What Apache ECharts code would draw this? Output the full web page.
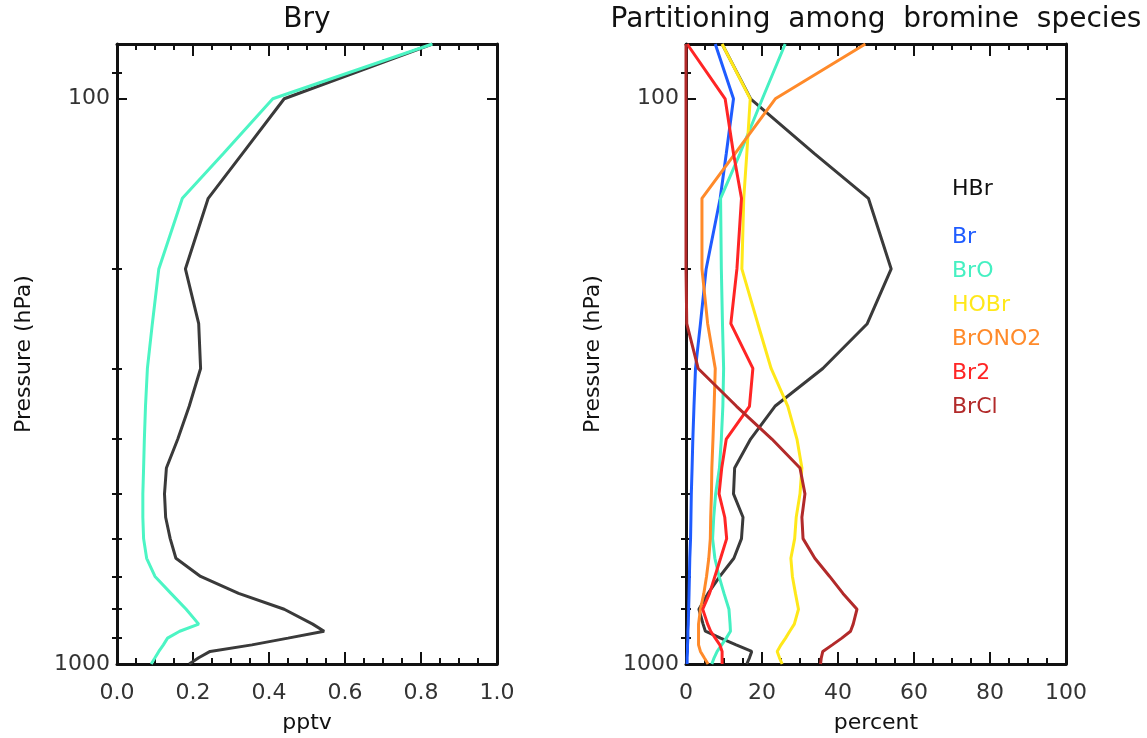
<!DOCTYPE html>
<html>
<head>
<meta charset="utf-8">
<script src="https://cdn.jsdelivr.net/npm/echarts@6/dist/echarts.min.js"></script>
<style>
  html, body { margin: 0; padding: 0; background: #ffffff; }
  #chart { width: 1147px; height: 738px; }
</style>
</head>
<body>
<div id="chart"></div>
<script>
// Pressure levels (hPa) shared by every profile
const pressureLevels = [80, 100, 125, 150, 200, 250, 300, 350, 400, 450, 500, 550,
                        600, 650, 700, 750, 800, 850, 875, 900, 925, 950, 975, 1000];
const pressureLabelTicks = [100, 1000];
const pressureMinorTicks = [90, 200, 300, 400, 500, 600, 700, 800, 900];

// Left panel: total inorganic bromine (pptv)
const bryProfileA = [0.83, 0.44, 0.33, 0.24, 0.18, 0.215, 0.22, 0.19, 0.16, 0.13, 0.125, 0.128,
                     0.14, 0.155, 0.22, 0.32, 0.44, 0.515, 0.545, 0.45, 0.355, 0.245, 0.215, 0.19];
const bryProfileB = [0.83, 0.41, 0.28, 0.172, 0.11, 0.093, 0.08, 0.075, 0.072, 0.07, 0.068, 0.068,
                     0.07, 0.078, 0.10, 0.142, 0.182, 0.215, 0.165, 0.133, 0.122, 0.11, 0.10, 0.09];

// Right panel: share of each species in Bry (percent)
const hbrPct    = [9.5, 17, 33.8, 48, 54, 47.7, 36, 23.4, 17, 12.8, 12.5, 15,
                   14.6, 12.6, 8.9, 5.8, 3.4, 4.5, 5.1, 9.1, 13.2, 17.3, 16.7, 16];
const brPct     = [7.7, 12.5, 10.6, 9, 5.3, 3.8, 2.5, 2.1, 1.8, 1.6, 1.4, 1.3,
                   1.2, 1.0, 0.9, 0.8, 0.7, 0.6, 0.5, 0.5, 0.4, 0.4, 0.3, 0.3];
const broPct    = [26.1, 20.1, 14.2, 9.1, 9.3, 9.6, 9.9, 9.7, 9.3, 8.8, 7.8, 7.3,
                   7.0, 7.6, 8.7, 10.0, 11.3, 11.6, 11.7, 10.6, 9.4, 8.2, 7.4, 6.8];
const hobrPct   = [9.5, 16.9, 16.0, 15.2, 14.7, 18.9, 22.4, 26.8, 29.2, 30.5, 30.0, 29.0,
                   28.6, 27.6, 28.0, 28.8, 29.6, 28.5, 27.3, 26.2, 25.0, 24.0, 24.6, 25.3];
const brono2Pct = [47.2, 23.5, 12.9, 4.2, 4.2, 5.7, 7.7, 7.4, 7.1, 6.8, 6.7, 6.5,
                   6.4, 6.0, 5.4, 4.7, 3.8, 3.3, 3.3, 3.3, 3.3, 3.8, 4.8, 5.8];
const br2Pct    = [0.3, 10.3, 12.5, 14.6, 13.4, 11.8, 17.6, 16.7, 10.6, 9.4, 8.7, 10.2,
                   10.7, 9.1, 7.6, 6.2, 4.4, 5.7, 6.5, 7.7, 8.9, 9.5, 9.5, 9.5];
const brclPct   = [0, 0, 0, 0, 0, 0.2, 3.2, 13.3, 22.6, 30.0, 31.3, 30.5,
                   30.8, 33.9, 37.8, 41.3, 45.0, 44.0, 43.3, 41.0, 38.5, 36.0, 35.6, 35.4];

const speciesNames  = ['HBr', 'Br', 'BrO', 'HOBr', 'BrONO2', 'Br2', 'BrCl'];
const speciesValues = [hbrPct, brPct, broPct, hobrPct, brono2Pct, br2Pct, brclPct];
const speciesColors = ['#3a3a3a', '#1f5cff', '#45f0c2', '#ffe81a', '#ff8a2a', '#ff2525', '#b22a2a'];
const speciesTextColors = ['#111111', '#1f5cff', '#45f0c2', '#ffe81a', '#ff8a2a', '#ff2525', '#b22a2a'];

const bryColors = ['#3a3a3a', '#4cf5c4'];

const panelTitles = ['Bry', 'Partitioning  among  bromine  species'];
const xAxisNames = ['pptv', 'percent'];
const yAxisName = 'Pressure (hPa)';

// ---- layout / style ----
const FONT = 'DejaVu Sans';
const INK = '#111111';
const grids = [
  { left: 117, top: 44, width: 380, height: 620 },
  { left: 686, top: 44, width: 380, height: 620 }
];
const xScales = [
  { max: 1, interval: 0.2, fmt: v => v.toFixed(1) },
  { max: 100, interval: 20, fmt: v => String(Math.round(v)) }
];

function profile(values) {
  return values.map((v, i) => [v, pressureLevels[i]]);
}

function xAxesFor(g) {
  const s = xScales[g];
  const common = {
    gridIndex: g, type: 'value', min: 0, max: s.max, interval: s.interval,
    splitLine: { show: false },
    axisLine: { show: true, onZero: false, lineStyle: { color: INK, width: 3 } },
    axisTick: { show: true, inside: true, length: 12, lineStyle: { color: INK, width: 2 } },
    minorTick: { show: true, splitNumber: 4, length: 6, lineStyle: { color: INK, width: 2 } },
    minorSplitLine: { show: false }
  };
  return [
    Object.assign({}, common, {
      position: 'bottom',
      axisLabel: { show: true, margin: 18, color: '#333', fontFamily: FONT, fontSize: 22, formatter: s.fmt },
      name: xAxisNames[g], nameLocation: 'middle', nameGap: 48,
      nameTextStyle: { color: INK, fontFamily: FONT, fontSize: 22 }
    }),
    Object.assign({}, common, { position: 'top', axisLabel: { show: false } })
  ];
}

function yAxesFor(g) {
  const base = {
    gridIndex: g, type: 'log', logBase: 10, min: 80, max: 1000, inverse: true,
    splitLine: { show: false }, minorTick: { show: false }
  };
  const majorTick = { show: true, inside: true, length: 10, customValues: pressureLabelTicks,
                      lineStyle: { color: INK, width: 2 } };
  const minorTick = { show: true, inside: true, length: 5, customValues: pressureMinorTicks,
                      lineStyle: { color: INK, width: 2 } };
  return [
    Object.assign({}, base, {
      position: 'left',
      axisLine: { show: true, onZero: false, lineStyle: { color: INK, width: 3 } },
      axisTick: majorTick,
      axisLabel: { show: true, customValues: pressureLabelTicks, margin: 7, color: '#333',
                   fontFamily: FONT, fontSize: 22, formatter: v => String(Math.round(v)) },
      name: yAxisName, nameLocation: 'middle', nameGap: 82, nameRotate: 90,
      nameTextStyle: { color: INK, fontFamily: FONT, fontSize: 22 }
    }),
    Object.assign({}, base, { position: 'left', axisLine: { show: false }, axisTick: minorTick,
                              axisLabel: { show: false } }),
    Object.assign({}, base, {
      position: 'right',
      axisLine: { show: true, onZero: false, lineStyle: { color: INK, width: 3 } },
      axisTick: majorTick, axisLabel: { show: false }
    }),
    Object.assign({}, base, { position: 'right', axisLine: { show: false }, axisTick: minorTick,
                              axisLabel: { show: false } })
  ];
}

function lineSeries(name, values, color, xIdx, yIdx) {
  return {
    name: name, type: 'line', xAxisIndex: xIdx, yAxisIndex: yIdx,
    data: profile(values), showSymbol: false, symbol: 'none', smooth: false,
    lineStyle: { color: color, width: 3 }, itemStyle: { color: color },
    emphasis: { disabled: true }, z: 3
  };
}

const series = [
  lineSeries('Bry A', bryProfileA, bryColors[0], 0, 0),
  lineSeries('Bry B', bryProfileB, bryColors[1], 0, 0)
].concat(speciesNames.map((n, i) => lineSeries(n, speciesValues[i], speciesColors[i], 2, 4)));

// species key drawn as coloured text inside the right panel
const keyX = 952;
const keyCenters = speciesNames.map((n, i) => (i === 0 ? 190 : 238 + 34 * (i - 1)));
const keyText = speciesNames.map((n, i) => ({
  type: 'text', left: keyX, top: keyCenters[i] - 12, z: 10,
  style: { text: n, fill: speciesTextColors[i], fontFamily: FONT, fontSize: 22 }
}));

const chart = echarts.init(document.getElementById('chart'), null, { renderer: 'canvas' });
chart.setOption({
  animation: false,
  backgroundColor: '#ffffff',
  textStyle: { fontFamily: FONT },
  title: panelTitles.map((t, g) => ({
    text: t, left: grids[g].left + grids[g].width / 2, top: 6, textAlign: 'center', padding: 0,
    textStyle: { fontFamily: FONT, fontSize: 28, fontWeight: 'normal', color: INK }
  })),
  grid: grids.map(g => Object.assign({ containLabel: false, outerBoundsMode: 'none' }, g)),
  xAxis: xAxesFor(0).concat(xAxesFor(1)),
  yAxis: yAxesFor(0).concat(yAxesFor(1)),
  series: series,
  graphic: keyText
});
</script>
</body>
</html>
